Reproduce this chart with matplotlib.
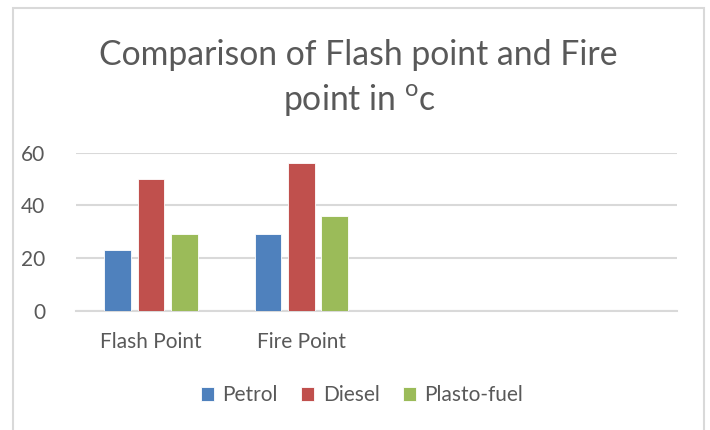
import matplotlib
matplotlib.use("Agg")
import matplotlib.pyplot as plt
import matplotlib.patches as patches
import numpy as np

# ----------------------------
# data
# ----------------------------
categories = ["Flash Point", "Fire Point", "", ""]
series_names = ["Petrol", "Diesel", "Plasto-fuel"]
petrol = [23, 29, np.nan, np.nan]
diesel = [50, 56, np.nan, np.nan]
plasto = [29, 36, np.nan, np.nan]
yticks = [0, 20, 40, 60]

colors = ["#4F81BD", "#C0504D", "#9BBB59"]
text_col = "#595959"
grid_col = "#D9D9D9"

plt.rcParams["font.family"] = ["Lato", "DejaVu Sans"]
plt.rcParams["mathtext.fontset"] = "custom"
plt.rcParams["mathtext.rm"] = "Lato"

W, H = 710, 430
fig = plt.figure(figsize=(W / 100, H / 100), dpi=100)

# axes placed in pixel coords of the reference
left, right, bottom, top = 76, 677, 310.7, 152.7
ax = fig.add_axes([left / W, 1 - bottom / H, (right - left) / W, (bottom - top) / H])

x = np.arange(len(categories))
width = 0.177
step = 0.222
for i, vals in enumerate([petrol, diesel, plasto]):
    ax.bar(x + (i - 1) * step, vals, width, color=colors[i], label=series_names[i],
           edgecolor="white", linewidth=0.6, zorder=3)

ax.set_xlim(-0.5, len(categories) - 0.5)
ax.set_ylim(0, 60)
ax.set_yticks(yticks)
ax.set_xticks(x)
ax.set_xticklabels(categories)
ax.tick_params(axis="both", length=0, colors=text_col, labelsize=15)
ax.tick_params(axis="y", pad=22)
ax.tick_params(axis="x", pad=15)
ax.grid(axis="y", color=grid_col, linewidth=1.5, zorder=0)
for s in ["top", "right", "left"]:
    ax.spines[s].set_visible(False)
ax.spines["bottom"].set_color(grid_col)
ax.spines["bottom"].set_linewidth(1.5)

# title in two lines
fig.text(358 / W, 1 - 65 / H, "Comparison of Flash point and Fire",
         ha="center", va="baseline", fontsize=24.3, color=text_col)
fig.text(360 / W, 1 - 110 / H, r"point in $^{\mathrm{o}}$c",
         ha="center", va="baseline", fontsize=24.3, color=text_col)

# legend
fig.legend(loc="center", bbox_to_anchor=(362 / W, 1 - 395 / H), ncol=3,
           frameon=False, fontsize=15, labelcolor=text_col,
           handlelength=0.65, handleheight=0.65, handletextpad=0.4,
           columnspacing=1.1)

# light chart border
fig.patches.append(patches.Rectangle((13 / W, -0.05), (704 - 13) / W, 1 + 0.05 - 8 / H,
                                     transform=fig.transFigure, fill=False,
                                     edgecolor=grid_col, linewidth=1.5))

fig.savefig("out.png", dpi=100)
